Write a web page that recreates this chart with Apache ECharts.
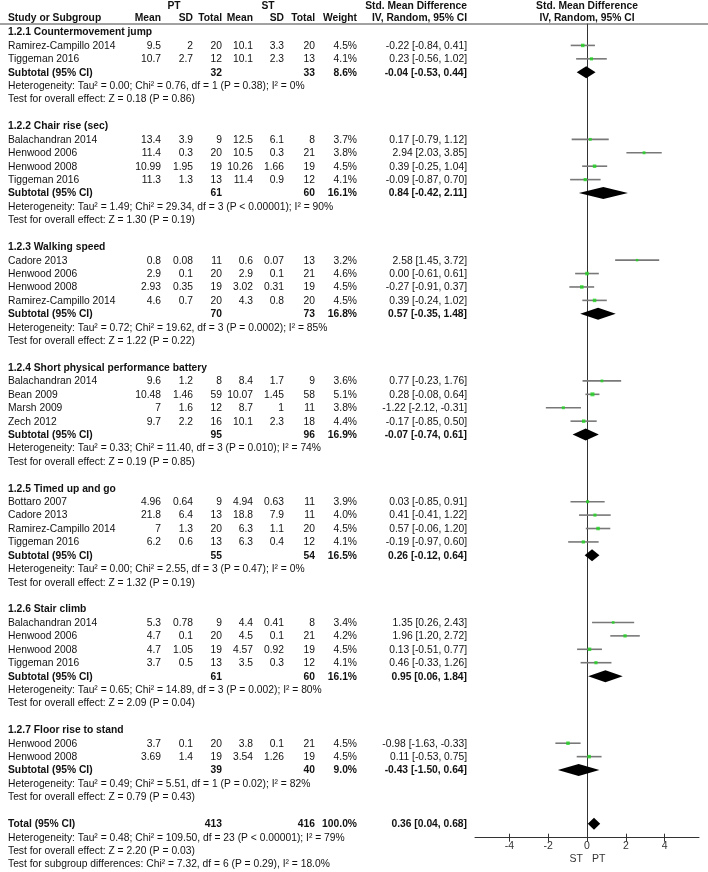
<!DOCTYPE html>
<html>
<head>
<meta charset="utf-8">
<script src="https://cdn.jsdelivr.net/npm/echarts@6/dist/echarts.min.js"></script>
<style>
html, body { margin: 0; padding: 0; background: #fff; }
#chart { width: 708px; height: 872px; }
</style>
</head>
<body>
<div id="chart"></div>
<script>
// subgroups
const subgroupTitles = [
    '1.2.1 Countermovement jump',
    '1.2.2 Chair rise (sec)',
    '1.2.3 Walking speed',
    '1.2.4 Short physical performance battery',
    '1.2.5 Timed up and go',
    '1.2.6 Stair climb',
    '1.2.7 Floor rise to stand'
];
const subPtTotal = [32, 61, 70, 95, 55, 61, 39];
const subStTotal = [33, 60, 73, 96, 54, 60, 40];
const subWeight = [8.6, 16.1, 16.8, 16.9, 16.5, 16.1, 9.0];
const subSmd = [-0.04, 0.84, 0.57, -0.07, 0.26, 0.95, -0.43];
const subLow = [-0.53, -0.42, -0.35, -0.74, -0.12, 0.06, -1.50];
const subHigh = [0.44, 2.11, 1.48, 0.61, 0.64, 1.84, 0.64];
const subHet = [
    'Heterogeneity: Tau² = 0.00; Chi² = 0.76, df = 1 (P = 0.38); I² = 0%',
    'Heterogeneity: Tau² = 1.49; Chi² = 29.34, df = 3 (P < 0.00001); I² = 90%',
    'Heterogeneity: Tau² = 0.72; Chi² = 19.62, df = 3 (P = 0.0002); I² = 85%',
    'Heterogeneity: Tau² = 0.33; Chi² = 11.40, df = 3 (P = 0.010); I² = 74%',
    'Heterogeneity: Tau² = 0.00; Chi² = 2.55, df = 3 (P = 0.47); I² = 0%',
    'Heterogeneity: Tau² = 0.65; Chi² = 14.89, df = 3 (P = 0.002); I² = 80%',
    'Heterogeneity: Tau² = 0.49; Chi² = 5.51, df = 1 (P = 0.02); I² = 82%'
];
const subTest = [
    'Test for overall effect: Z = 0.18 (P = 0.86)',
    'Test for overall effect: Z = 1.30 (P = 0.19)',
    'Test for overall effect: Z = 1.22 (P = 0.22)',
    'Test for overall effect: Z = 0.19 (P = 0.85)',
    'Test for overall effect: Z = 1.32 (P = 0.19)',
    'Test for overall effect: Z = 2.09 (P = 0.04)',
    'Test for overall effect: Z = 0.79 (P = 0.43)'
];

// studies
const studyGroup = [0, 0, 1, 1, 1, 1, 2, 2, 2, 2, 3, 3, 3, 3, 4, 4, 4, 4, 5, 5, 5, 5, 6, 6];
const studyNames = [
    'Ramirez-Campillo 2014', 'Tiggeman 2016',
    'Balachandran 2014', 'Henwood 2006', 'Henwood 2008', 'Tiggeman 2016',
    'Cadore 2013', 'Henwood 2006', 'Henwood 2008', 'Ramirez-Campillo 2014',
    'Balachandran 2014', 'Bean 2009', 'Marsh 2009', 'Zech 2012',
    'Bottaro 2007', 'Cadore 2013', 'Ramirez-Campillo 2014', 'Tiggeman 2016',
    'Balachandran 2014', 'Henwood 2006', 'Henwood 2008', 'Tiggeman 2016',
    'Henwood 2006', 'Henwood 2008'
];
const ptMean = [9.5, 10.7, 13.4, 11.4, 10.99, 11.3, 0.8, 2.9, 2.93, 4.6, 9.6, 10.48, 7, 9.7, 4.96, 21.8, 7, 6.2, 5.3, 4.7, 4.7, 3.7, 3.7, 3.69];
const ptSD = [2, 2.7, 3.9, 0.3, 1.95, 1.3, 0.08, 0.1, 0.35, 0.7, 1.2, 1.46, 1.6, 2.2, 0.64, 6.4, 1.3, 0.6, 0.78, 0.1, 1.05, 0.5, 0.1, 1.4];
const ptTotal = [20, 12, 9, 20, 19, 13, 11, 20, 19, 20, 8, 59, 12, 16, 9, 13, 20, 13, 9, 20, 19, 13, 20, 19];
const stMean = [10.1, 10.1, 12.5, 10.5, 10.26, 11.4, 0.6, 2.9, 3.02, 4.3, 8.4, 10.07, 8.7, 10.1, 4.94, 18.8, 6.3, 6.3, 4.4, 4.5, 4.57, 3.5, 3.8, 3.54];
const stSD = [3.3, 2.3, 6.1, 0.3, 1.66, 0.9, 0.07, 0.1, 0.31, 0.8, 1.7, 1.45, 1, 2.3, 0.63, 7.9, 1.1, 0.4, 0.41, 0.1, 0.92, 0.3, 0.1, 1.26];
const stTotal = [20, 13, 8, 21, 19, 12, 13, 21, 19, 20, 9, 58, 11, 18, 11, 11, 20, 12, 8, 21, 19, 12, 21, 19];
const studyWeight = [4.5, 4.1, 3.7, 3.8, 4.5, 4.1, 3.2, 4.6, 4.5, 4.5, 3.6, 5.1, 3.8, 4.4, 3.9, 4.0, 4.5, 4.1, 3.4, 4.2, 4.5, 4.1, 4.5, 4.5];
const studySmd = [-0.22, 0.23, 0.17, 2.94, 0.39, -0.09, 2.58, 0.00, -0.27, 0.39, 0.77, 0.28, -1.22, -0.17, 0.03, 0.41, 0.57, -0.19, 1.35, 1.96, 0.13, 0.46, -0.98, 0.11];
const studyLow = [-0.84, -0.56, -0.79, 2.03, -0.25, -0.87, 1.45, -0.61, -0.91, -0.24, -0.23, -0.08, -2.12, -0.85, -0.85, -0.41, -0.06, -0.97, 0.26, 1.20, -0.51, -0.33, -1.63, -0.53];
const studyHigh = [0.41, 1.02, 1.12, 3.85, 1.04, 0.70, 3.72, 0.61, 0.37, 1.02, 1.76, 0.64, -0.31, 0.50, 0.91, 1.22, 1.20, 0.60, 2.43, 2.72, 0.77, 1.26, -0.33, 0.75];

// overall
const totalPt = 413;
const totalSt = 416;
const totalWeight = 100.0;
const totalSmd = 0.36;
const totalLow = 0.04;
const totalHigh = 0.68;
const totalHet = 'Heterogeneity: Tau² = 0.48; Chi² = 109.50, df = 23 (P < 0.00001); I² = 79%';
const totalTest = 'Test for overall effect: Z = 2.20 (P = 0.03)';
const subgroupDiffTest = 'Test for subgroup differences: Chi² = 7.32, df = 6 (P = 0.29), I² = 18.0%';

const xTicks = [-4, -2, 0, 2, 4];

const FONT = "'Liberation Sans', Arial, sans-serif";
const FONT_SIZE = 10.5;
const TEXT_SCALE = 0.98;
const TEXT_COLOR = '#111';
// column anchors (right aligned except the name)
const col = { name: 8, ptMean: 161, ptSD: 193, ptTotal: 222, stMean: 253, stSD: 284, stTotal: 315, weight: 357, ci: 467 };

function ciText(m, lo, hi) {
    return `${m.toFixed(2)} [${lo.toFixed(2)}, ${hi.toFixed(2)}]`;
}
function cell(text, x, align, bold) {
    return { text: String(text), x: x, align: align || 'right', bold: !!bold };
}

// build table rows + plot data
const textRows = [];
const ciLines = [];
const squares = [];
const diamonds = [];

textRows.push({ row: -1.98, cells: [
    { text: 'PT', x: 174, align: 'center', bold: true },
    { text: 'ST', x: 268, align: 'center', bold: true },
    cell('Std. Mean Difference', col.ci, 'right', true),
    { text: 'Std. Mean Difference', zero: true, align: 'center', bold: true }
]});
textRows.push({ row: -1.05, cells: [
    cell('Study or Subgroup', col.name, 'left', true),
    cell('Mean', col.ptMean, 'right', true),
    cell('SD', col.ptSD, 'right', true),
    cell('Total', col.ptTotal, 'right', true),
    cell('Mean', col.stMean, 'right', true),
    cell('SD', col.stSD, 'right', true),
    cell('Total', col.stTotal, 'right', true),
    cell('Weight', col.weight, 'right', true),
    cell('IV, Random, 95% CI', col.ci, 'right', true),
    { text: 'IV, Random, 95% CI', zero: true, align: 'center', bold: true }
]});

let r = 0;
subgroupTitles.forEach((title, g) => {
    textRows.push({ row: r++, cells: [cell(title, col.name, 'left', true)] });
    studyNames.forEach((name, i) => {
        if (studyGroup[i] !== g) return;
        textRows.push({ row: r, cells: [
            cell(name, col.name, 'left'),
            cell(ptMean[i], col.ptMean), cell(ptSD[i], col.ptSD), cell(ptTotal[i], col.ptTotal),
            cell(stMean[i], col.stMean), cell(stSD[i], col.stSD), cell(stTotal[i], col.stTotal),
            cell(studyWeight[i].toFixed(1) + '%', col.weight),
            cell(ciText(studySmd[i], studyLow[i], studyHigh[i]), col.ci)
        ]});
        ciLines.push([studyLow[i], studyHigh[i], r]);
        squares.push([studySmd[i], r, studyWeight[i]]);
        r++;
    });
    textRows.push({ row: r, cells: [
        cell('Subtotal (95% CI)', col.name, 'left', true),
        cell(subPtTotal[g], col.ptTotal, 'right', true),
        cell(subStTotal[g], col.stTotal, 'right', true),
        cell(subWeight[g].toFixed(1) + '%', col.weight, 'right', true),
        cell(ciText(subSmd[g], subLow[g], subHigh[g]), col.ci, 'right', true)
    ]});
    diamonds.push([subLow[g], subSmd[g], subHigh[g], r]);
    r++;
    textRows.push({ row: r++, cells: [cell(subHet[g], col.name, 'left')] });
    textRows.push({ row: r++, cells: [cell(subTest[g], col.name, 'left')] });
    r++; // blank line
});
textRows.push({ row: r, cells: [
    cell('Total (95% CI)', col.name, 'left', true),
    cell(totalPt, col.ptTotal, 'right', true),
    cell(totalSt, col.stTotal, 'right', true),
    cell(totalWeight.toFixed(1) + '%', col.weight, 'right', true),
    cell(ciText(totalSmd, totalLow, totalHigh), col.ci, 'right', true)
]});
diamonds.push([totalLow, totalSmd, totalHigh, r]);
r++;
textRows.push({ row: r++, cells: [cell(totalHet, col.name, 'left')] });
textRows.push({ row: r++, cells: [cell(totalTest, col.name, 'left')] });
textRows.push({ row: r++, cells: [cell(subgroupDiffTest, col.name, 'left')] });

const chart = echarts.init(document.getElementById('chart'));

const option = {
    animation: false,
    backgroundColor: '#fff',
    grid: { left: 475, right: 9, top: 24, bottom: 34.3, outerBoundsMode: 'none' },
    xAxis: [
        {
            type: 'value', min: -5.77, max: 5.77,
            axisLine: { onZero: false, lineStyle: { color: '#333', width: 1 } },
            axisTick: { length: 4, customValues: xTicks, lineStyle: { color: '#333' } },
            axisLabel: { customValues: xTicks, color: '#333', fontFamily: FONT, fontSize: FONT_SIZE, margin: 3 },
            splitLine: { show: false }
        },
        {
            type: 'value', min: -5.77, max: 5.77, position: 'bottom',
            axisLine: { show: false, onZero: false },
            axisTick: { inside: true, length: 4, customValues: xTicks, lineStyle: { color: '#333' } },
            axisLabel: { show: false },
            splitLine: { show: false }
        }
    ],
    yAxis: {
        type: 'value', inverse: true, min: -0.596, max: 60.04,
        axisLine: { show: true, onZero: true, lineStyle: { color: '#333', width: 1 } },
        axisTick: { show: false },
        axisLabel: { show: false },
        splitLine: { show: false }
    },
    graphic: [
        { type: 'line', shape: { x1: 0, y1: 24, x2: 708, y2: 24 }, style: { stroke: '#444', lineWidth: 1 }, z: 10 },
        { type: 'text', x: 583, y: 859, style: { text: 'ST', align: 'right', verticalAlign: 'middle', fontFamily: FONT, fontSize: FONT_SIZE, fill: '#333' } },
        { type: 'text', x: 592, y: 859, style: { text: 'PT', align: 'left', verticalAlign: 'middle', fontFamily: FONT, fontSize: FONT_SIZE, fill: '#333' } }
    ],
    series: [
        {
            name: 'table',
            type: 'custom',
            clip: false,
            silent: true,
            data: textRows.map(t => [0, t.row]),
            encode: { x: 0, y: 1 },
            renderItem: function (params, api) {
                const t = textRows[params.dataIndex];
                const p = api.coord([0, t.row]);
                return {
                    type: 'group',
                    children: t.cells.map(c => ({
                        type: 'text',
                        x: c.zero ? p[0] : c.x,
                        y: p[1] + 0.5,
                        scaleX: TEXT_SCALE,
                        style: {
                            text: c.text,
                            x: 0,
                            y: 0,
                            align: c.align,
                            verticalAlign: 'middle',
                            fontFamily: FONT,
                            fontSize: FONT_SIZE,
                            fontWeight: c.bold ? 'bold' : 'normal',
                            fill: TEXT_COLOR
                        }
                    }))
                };
            }
        },
        {
            name: 'ci',
            type: 'custom',
            silent: true,
            data: ciLines,
            encode: { x: [0, 1], y: 2 },
            renderItem: function (params, api) {
                const a = api.coord([api.value(0), api.value(2)]);
                const b = api.coord([api.value(1), api.value(2)]);
                return {
                    type: 'line',
                    shape: { x1: a[0], y1: a[1], x2: b[0], y2: b[1] },
                    style: { stroke: '#787878', lineWidth: 1.6 }
                };
            }
        },
        {
            name: 'studies',
            type: 'scatter',
            silent: true,
            symbol: 'rect',
            symbolSize: v => v[2] * 0.78,
            itemStyle: { color: '#1ed41e' },
            data: squares,
            z: 3
        },
        {
            name: 'pooled',
            type: 'custom',
            silent: true,
            data: diamonds,
            encode: { x: [0, 1, 2], y: 3 },
            renderItem: function (params, api) {
                const row = api.value(3);
                const l = api.coord([api.value(0), row]);
                const m = api.coord([api.value(1), row]);
                const h = api.coord([api.value(2), row]);
                const half = 6;
                return {
                    type: 'polygon',
                    shape: { points: [[l[0], l[1]], [m[0], m[1] - half], [h[0], h[1]], [m[0], m[1] + half]] },
                    style: { fill: '#000' },
                    z2: 5
                };
            },
            z: 4
        }
    ]
};

chart.setOption(option);
</script>
</body>
</html>
